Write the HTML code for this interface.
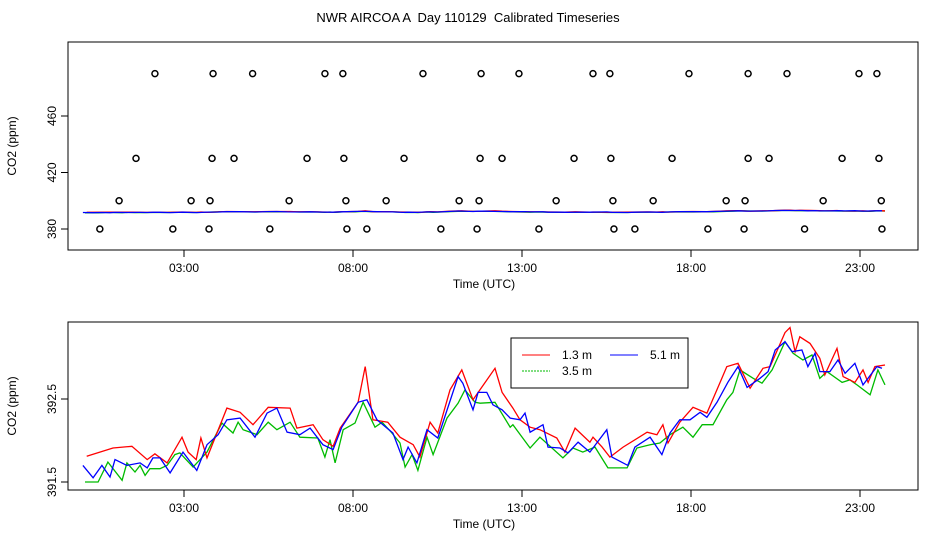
<!DOCTYPE html>
<html><head><meta charset="utf-8"><style>
body{margin:0;background:#fff;}
svg{display:block;font-family:"Liberation Sans",sans-serif;}
</style></head><body>
<svg id="chart" width="936" height="540" viewBox="0 0 936 540">
<rect width="936" height="540" fill="#fff"/>
<text x="468" y="22" font-size="13" text-anchor="middle" style="white-space:pre">NWR AIRCOA A  Day 110129  Calibrated Timeseries</text>
<g id="topPanel"></g>
<g id="botPanel"></g>
</svg>
<script>
const xTicks=[3,8,13,18,23];
const xTickLabels=["03:00","08:00","13:00","18:00","23:00"];
const topYTicks=[380,420,460];
const botYTicks=[391.5,392.5];
const circLevels=[490,430,400,380];
const circT490=[2.14,3.86,5.03,7.17,7.70,10.07,11.79,12.91,15.10,15.60,17.94,19.69,20.84,22.97,23.50];
const circT430=[1.58,3.83,4.48,6.64,7.73,9.51,11.76,12.41,14.54,15.63,17.44,19.69,20.31,22.47,23.56];
const circT400=[1.08,3.21,3.77,6.11,7.79,8.98,11.14,11.73,14.01,15.69,16.88,19.04,19.60,21.91,23.63];
const circT380=[0.51,2.67,3.74,5.54,7.82,8.41,10.60,11.67,13.50,15.72,16.34,18.50,19.57,21.36,23.65];
const redT=[0.12,0.90,1.46,1.91,2.14,2.50,2.94,3.12,3.36,3.50,3.68,4.27,4.66,5.04,5.49,6.14,6.34,6.82,7.11,7.41,7.62,8.15,8.36,8.59,9.03,9.39,9.78,9.98,10.28,10.51,10.87,11.22,11.55,12.20,12.41,12.73,12.94,13.24,13.53,14.03,14.27,14.57,15.01,15.10,15.37,15.60,15.99,16.70,16.99,17.17,17.32,17.67,18.06,18.47,18.86,19.06,19.39,19.75,20.13,20.34,20.78,20.93,21.08,21.22,21.52,21.81,21.96,22.32,22.50,22.85,23.09,23.24,23.44,23.74];
const redV=[391.81,391.91,391.93,391.77,391.84,391.73,392.04,391.86,391.77,392.03,391.79,392.39,392.34,392.19,392.40,392.39,392.15,392.19,392.01,391.93,392.15,392.46,392.89,392.25,392.22,392.04,391.95,391.80,392.22,392.09,392.61,392.85,392.49,392.87,392.58,392.39,392.25,392.16,392.13,392.03,391.86,392.15,391.98,392.04,391.92,391.80,391.92,392.10,392.07,392.19,391.97,392.22,392.40,392.33,392.70,392.89,392.93,392.63,392.87,392.89,393.30,393.36,393.07,393.25,393.17,392.99,392.79,393.11,392.77,392.70,392.85,392.70,392.89,392.91];
const greenT=[0.07,0.46,0.75,1.17,1.31,1.55,1.70,1.85,1.99,2.29,2.50,2.73,2.88,3.27,3.68,4.12,4.45,4.60,4.75,5.16,5.49,5.75,6.14,6.43,6.96,7.17,7.32,7.47,7.71,8.06,8.30,8.65,8.86,9.15,9.39,9.54,9.75,9.92,10.19,10.37,10.78,11.11,11.31,11.61,11.76,12.20,12.65,12.73,13.24,13.53,14.21,14.51,14.80,15.16,15.54,16.11,16.40,16.79,17.08,17.38,17.76,18.06,18.33,18.65,19.06,19.24,19.45,19.84,20.10,20.40,20.78,21.02,21.31,21.58,21.81,22.02,22.47,22.70,22.91,23.30,23.53,23.74];
const greenV=[391.50,391.50,391.74,391.52,391.73,391.62,391.70,391.58,391.66,391.66,391.70,391.83,391.85,391.68,391.86,392.21,392.09,392.22,392.13,392.07,392.22,392.13,392.22,392.04,392.03,391.80,392.01,391.73,392.13,392.21,392.46,392.16,392.22,392.09,391.97,391.68,391.83,391.64,392.04,391.83,392.27,392.45,392.61,392.46,392.45,392.46,392.16,392.19,391.91,392.04,391.79,391.91,391.86,391.92,391.67,391.67,391.91,391.95,391.97,392.07,392.16,392.04,392.19,392.19,392.49,392.58,392.85,392.75,392.69,392.85,393.19,393.05,392.97,393.03,392.75,392.83,392.70,392.73,392.67,392.55,392.85,392.67];
const blueT=[0.01,0.31,0.57,0.81,0.96,1.31,1.70,1.91,2.08,2.29,2.59,2.97,3.38,3.68,4.01,4.27,4.66,5.10,5.46,5.75,6.05,6.43,6.73,7.11,7.41,7.67,8.15,8.41,8.71,9.18,9.48,9.63,9.89,10.19,10.51,11.11,11.25,11.55,11.70,11.96,12.14,12.41,12.65,12.94,13.09,13.24,13.62,13.77,14.12,14.36,14.66,15.01,15.51,15.66,16.13,16.34,16.79,17.14,17.38,17.67,17.97,18.27,18.47,18.77,19.09,19.39,19.66,20.04,20.28,20.49,20.78,20.99,21.28,21.46,21.67,21.81,22.11,22.35,22.56,22.85,23.09,23.50,23.65];
const blueV=[391.70,391.55,391.70,391.56,391.77,391.70,391.73,391.67,391.79,391.79,391.61,391.86,391.64,391.95,392.07,392.25,392.27,392.04,392.33,392.39,392.10,392.07,392.15,391.95,391.89,392.16,392.46,392.49,392.25,392.09,391.77,391.92,391.73,392.13,392.03,392.77,392.69,392.37,392.58,392.58,392.43,392.37,392.27,392.25,392.33,392.10,392.19,391.92,391.91,391.85,391.98,391.86,392.13,391.80,391.70,391.92,392.04,391.83,392.09,392.25,392.25,392.34,392.28,392.46,392.70,392.89,392.64,392.75,392.83,393.09,393.19,393.07,393.09,392.89,393.05,392.83,392.83,392.97,392.81,392.93,392.67,392.89,392.87];

const NS="http://www.w3.org/2000/svg";
function mk(p,tag,attrs){const e=document.createElementNS(NS,tag);for(const k in attrs)e.setAttribute(k,attrs[k]);p.appendChild(e);return e;}
const xS=t=>82.6+t*33.8;
const topY=v=>229-(v-380)*1.4125;
const botY=v=>482-(v-391.5)*83;

function panel(g,y0,y1,yS,yt){
  const box=mk(g,'rect',{x:68,y:y0,width:850,height:y1-y0,fill:'none',stroke:'#000','stroke-width':1});
  
  
  xTicks.forEach((t,i)=>{
    const l=mk(g,'line',{x1:xS(t),x2:xS(t),y1:y1,y2:y1+7,stroke:'#000'});
    
    
    const tx=mk(g,'text',{x:xS(t),y:y1+22,'font-size':12,'text-anchor':'middle'});tx.textContent=xTickLabels[i];
    
    
  });
  yt.forEach(v=>{
    const y=yS(v);
    const l=mk(g,'line',{x1:61,x2:68,y1:y,y2:y,stroke:'#000'});
    
    
    const tx=mk(g,'text',{x:0,y:0,'font-size':12,'text-anchor':'middle',transform:`translate(56,${y}) rotate(-90)`});tx.textContent=String(v);
    
    
  });
  const xl=mk(g,'text',{x:484,y:y1+38,'font-size':12,'text-anchor':'middle'});xl.textContent='Time (UTC)';
  
  
  const yl=mk(g,'text',{x:0,y:0,'font-size':12,'text-anchor':'middle',transform:`translate(16,${(y0+y1)/2}) rotate(-90)`});yl.textContent='CO2 (ppm)';
  
  
}
function series(g,T,V,yS,color,name,dash){
  const d=T.map((t,i)=>(i?'L':'M')+xS(t).toFixed(1)+','+yS(V[i]).toFixed(1)).join('');
  const p=mk(g,'path',{d:d,fill:'none',stroke:color,'stroke-width':1.3});
  if(dash)p.setAttribute('stroke-dasharray',dash);
  
  
}
const topG=document.getElementById('topPanel'),botG=document.getElementById('botPanel');
panel(topG,42,250,topY,topYTicks);
panel(botG,322,490,botY,botYTicks);
series(topG,greenT,greenV,topY,'#00bb00','top-series-3-5m');
series(topG,redT,redV,topY,'#ff0000','top-series-1-3m');
series(topG,blueT,blueV,topY,'#0000ff','top-series-5-1m');
[circT490,circT430,circT400,circT380].forEach((arr,k)=>{
  arr.forEach(t=>{
    const c=mk(topG,'circle',{cx:xS(t),cy:topY(circLevels[k]),r:3,fill:'none',stroke:'#000','stroke-width':1.5});
    
    
  });
});
series(botG,greenT,greenV,botY,'#00bb00','series-3-5m');
series(botG,redT,redV,botY,'#ff0000','series-1-3m');
series(botG,blueT,blueV,botY,'#0000ff','series-5-1m');
const lg=mk(botG,'g',{});


mk(lg,'rect',{x:511,y:338,width:177,height:50,fill:'#fff',stroke:'#000'});
[[522,355,'#ff0000','1.3 m',null,'legend-entry-1-3m'],[610,355,'#0000ff','5.1 m',null,'legend-entry-5-1m'],[522,371,'#00bb00','3.5 m','2,1','legend-entry-3-5m']].forEach(e=>{
  const ge=mk(lg,'g',{});
  
  
  const l=mk(ge,'line',{x1:e[0],x2:e[0]+28,y1:e[1],y2:e[1],stroke:e[2],'stroke-width':1});
  if(e[4])l.setAttribute('stroke-dasharray',e[4]);
  const t=mk(ge,'text',{x:e[0]+40,y:e[1]+4,'font-size':12});t.textContent=e[3];
});
</script>
</body></html>
